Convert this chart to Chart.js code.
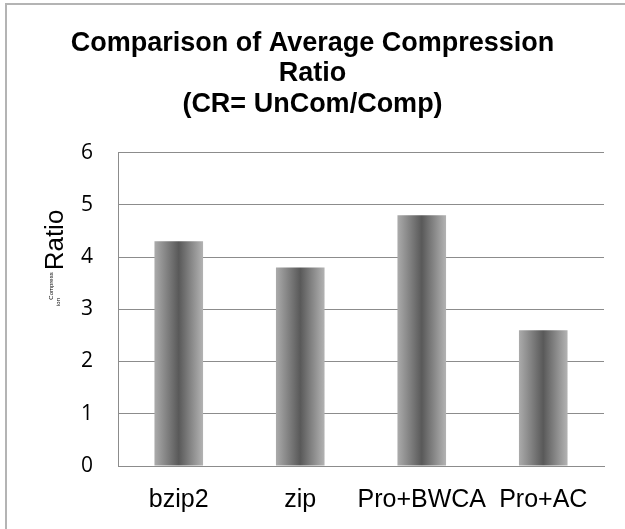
<!DOCTYPE html>
<html lang="en">
<head>
    <meta charset="UTF-8">
    <title>Comparison of Average Compression Ratio</title>
    <script src="https://cdn.jsdelivr.net/npm/chart.js"></script>
    <style>
        body { margin: 0; background: #fff; overflow: hidden; }
        #wrap { position: relative; width: 625px; height: 529px; }
        #frame { position: absolute; left: 5px; top: 3px; width: 620px; height: 526px;
                 border-top: 2px solid #b4b4b4; border-left: 2px solid #b4b4b4; pointer-events: none; }
    </style>
</head>
<body>
    <div id="wrap">
        <canvas id="ratioChart"></canvas>
        <div id="frame"></div>
    </div>

    <script>
        const categories = ['bzip2', 'zip', 'Pro+BWCA', 'Pro+AC'];
        const ratios = [4.3, 3.8, 4.8, 2.6];
        const titleLines = ['Comparison of Average Compression', 'Ratio', '(CR= UnCom/Comp)'];
        const yTicks = [0, 1, 2, 3, 4, 5, 6];

        const BAR_PCT = 0.4;

        // horizontal grey shading on each bar
        function barShade(c) {
            const chart = c.chart;
            const area = chart.chartArea;
            const xs = chart.scales.x;
            if (!area || !xs) return '#888';
            const mid = xs.getPixelForValue(c.dataIndex);
            const half = (area.width / categories.length) * BAR_PCT / 2;
            const g = chart.ctx.createLinearGradient(mid - half, 0, mid + half, 0);
            g.addColorStop(0, '#ababab');
            g.addColorStop(0.5, '#595959');
            g.addColorStop(1, '#b3b3b3');
            return g;
        }

        // y axis caption, drawn the way the original shows it
        const axisCaption = {
            id: 'axisCaption',
            afterDraw(chart) {
                const ctx = chart.ctx;
                ctx.save();
                ctx.fillStyle = '#000';
                ctx.textAlign = 'center';
                ctx.textBaseline = 'middle';
                ctx.translate(56, 240);
                ctx.rotate(-Math.PI / 2);
                ctx.font = '26px "Liberation Sans", Arial, sans-serif';
                ctx.fillText('Ratio', 0, 0);
                ctx.font = '6px "Liberation Sans", Arial, sans-serif';
                ctx.fillText('Compress', -46, -5);
                ctx.fillText('ion', -62, 2);
                ctx.restore();
            }
        };

        new Chart(document.getElementById('ratioChart'), {
            type: 'bar',
            data: {
                labels: categories,
                datasets: [{
                    data: ratios,
                    backgroundColor: barShade,
                    borderWidth: 0,
                    categoryPercentage: 1,
                    barPercentage: BAR_PCT
                }]
            },
            options: {
                responsive: true,
                maintainAspectRatio: false,
                animation: false,
                layout: { padding: { top: 0, left: 21, right: 21, bottom: 0 } },
                plugins: {
                    legend: { display: false },
                    tooltip: { enabled: false },
                    title: {
                        display: true,
                        text: titleLines,
                        color: '#000',
                        font: { family: '"Liberation Sans", Arial, sans-serif', size: 27, weight: 'bold', lineHeight: 1.13 },
                        padding: { top: 28, bottom: 33 }
                    }
                },
                scales: {
                    x: {
                        grid: { display: false },
                        border: { display: true, color: '#8c8c8c', width: 1 },
                        ticks: {
                            color: '#000',
                            padding: 11,
                            maxRotation: 0,
                            minRotation: 0,
                            autoSkip: false,
                            font: { family: '"Liberation Sans", Arial, sans-serif', size: 25 }
                        },
                        afterFit(s) { s.height = 63; }
                    },
                    y: {
                        min: 0,
                        max: 6,
                        afterBuildTicks(s) { s.ticks = yTicks.map(v => ({ value: v })); },
                        grid: { color: '#8c8c8c', lineWidth: 1, drawTicks: false },
                        border: { display: true, color: '#8c8c8c', width: 1 },
                        ticks: {
                            color: '#000',
                            padding: 25,
                            font: { family: '"Open Sans", sans-serif', size: 21 }
                        },
                        afterFit(s) { s.width = 97; }
                    }
                }
            },
            plugins: [axisCaption]
        });
    </script>
</body>
</html>
